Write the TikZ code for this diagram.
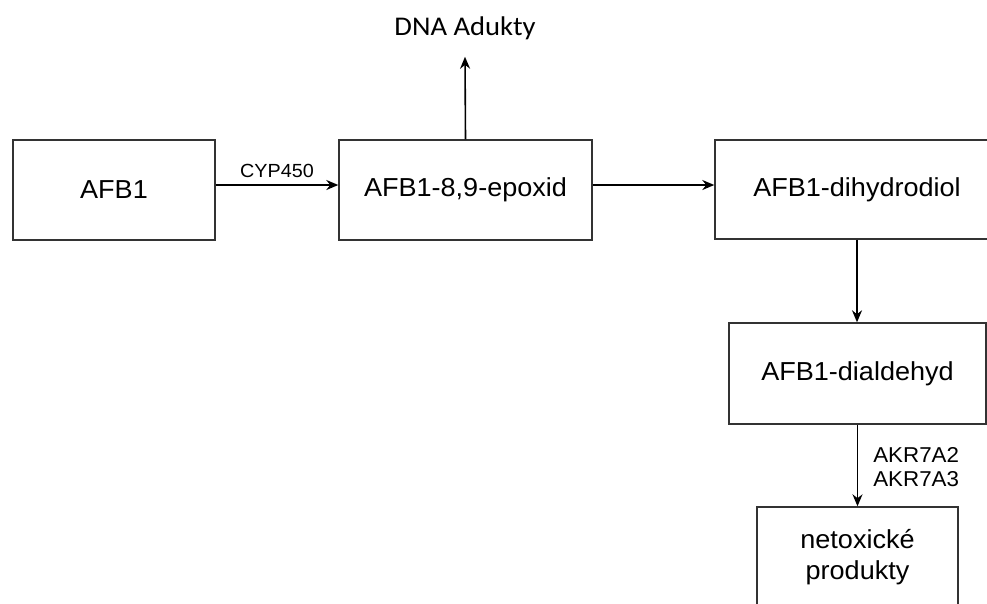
\documentclass[tikz,border=0pt]{standalone}
\usepackage{fontspec}
\setmainfont{Liberation Sans}[FakeStretch=1.04]
\newfontfamily\dnafont{Carlito}[FakeStretch=1.06]
\usetikzlibrary{arrows.meta}
\begin{document}
\begin{tikzpicture}[x=1pt,y=-1pt,
  box/.style={draw=black!80, line width=1.4pt, rectangle, inner sep=0pt, font=\fontsize{26}{31}\selectfont, align=center},
  arr/.style={draw=black, line width=1.6pt, -{Stealth[length=12pt,width=10pt]}},
  lbl/.style={font=\fontsize{19}{24}\selectfont, inner sep=0pt}]
\useasboundingbox (0,0) rectangle (987,603);
\clip (0,0) rectangle (987,603);
\node[box, minimum width=202pt, minimum height=100pt] (afb) at (114,190) {\raisebox{-3pt}{AFB1}};
\node[box, minimum width=253pt, minimum height=100pt] (epo) at (465.5,190) {\raisebox{-3pt}{AFB1-8,9-epoxid}};
\node[box, minimum width=284pt, minimum height=99pt] (dih) at (857,189.5) {\raisebox{-3pt}{AFB1-dihydrodiol}};
\node[box, minimum width=257pt, minimum height=101pt] (dia) at (857.5,373.5) {\raisebox{-3pt}{AFB1-dialdehyd}};
\node[box, minimum width=201pt, minimum height=100pt] (net) at (857.5,557) {netoxické\\produkty};
\node[font=\dnafont\fontsize{27}{31}\selectfont, inner sep=3pt] (dna) at (465,28) {DNA Adukty};
\draw[arr] ([yshift=5pt]afb.east) -- ([yshift=5pt]afb.east -| epo.west) node[lbl, midway, above=7pt] (cyp) {CYP450};
\draw[arr] ([yshift=5pt]epo.east) -- ([yshift=5pt]epo.east -| dih.west);
\draw[arr] (epo.north) -- ([yshift=-14pt]dna.south);
\draw[arr] (dih.south) -- (dih.south |- dia.north);
\draw[arr] (dia.south) -- (dia.south |- net.north) node[lbl, font=\fontsize{21.5}{24}\selectfont, midway, right=15pt, yshift=-2pt, align=left] (akr) {AKR7A2\\AKR7A3};
\end{tikzpicture}
\end{document}
